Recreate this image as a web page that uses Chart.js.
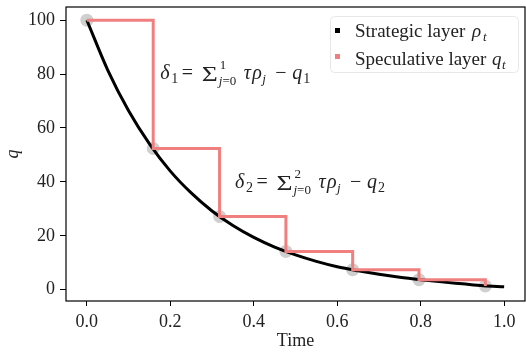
<!DOCTYPE html>
<html>
<head>
<meta charset="utf-8">
<script src="https://cdn.jsdelivr.net/npm/chart.js@4.4.1/dist/chart.umd.min.js"></script>
<style>
  html, body { margin: 0; padding: 0; background: #fff; }
  #wrap { width: 526px; height: 352px; }
</style>
</head>
<body>
<div id="wrap"><canvas id="chart" width="526" height="352"></canvas></div>
<script>
// Strategic layer (smooth decay)
const curveT = [0, 0.05, 0.1, 0.15, 0.2, 0.25, 0.3, 0.35, 0.4, 0.45, 0.5,
                0.55, 0.6, 0.65, 0.7, 0.75, 0.8, 0.85, 0.9, 0.95, 1.0];
const strategicRho = [100, 81.5, 66.4, 54.1, 44.0, 35.9, 29.2, 23.8, 19.4, 15.8, 12.9,
                      10.5, 8.5, 7.0, 5.7, 4.6, 3.7, 2.9, 2.2, 1.5, 1.1];

// Speculative layer (step function) and its corner points
const stepT = [0, 0.159, 0.318, 0.477, 0.637, 0.796, 0.955];
const speculativeQ = [100, 52.4, 27.2, 14.2, 7.4, 3.7, 1.4];

const xTicks = [0, 0.2, 0.4, 0.6, 0.8, 1.0];
const yTicks = [0, 20, 40, 60, 80, 100];

const SERIF = '"Liberation Serif", "DejaVu Serif", serif';
const RED = '#f08080';

function pts(xs, ys) {
    return xs.map((x, i) => ({ x: x, y: ys[i] }));
}

// draw text pieces; "at" is an offset from the start, otherwise pieces follow on
function drawRuns(ctx, x0, y, runs) {
    let x = x0;
    runs.forEach(r => {
        ctx.font = (r.it ? 'italic ' : '') + r.size + 'px ' + SERIF;
        const px = r.at !== undefined ? x0 + r.at : x;
        if (r.sx) {
            // stretch wide glyphs (the sum sign) a little
            ctx.save();
            ctx.translate(px, y + (r.dy || 0));
            ctx.scale(r.sx, 1);
            ctx.fillText(r.t, 0, 0);
            ctx.restore();
            x = px + ctx.measureText(r.t).width * r.sx;
        } else {
            ctx.fillText(r.t, px, y + (r.dy || 0));
            x = px + ctx.measureText(r.t).width;
        }
    });
}

function deltaRuns(k) {
    return [
        { t: 'δ', it: true, size: 20, at: 0 },
        { t: k, size: 14, dy: 4, at: 11 },
        { t: '=', size: 20, at: 21.5 },
        { t: 'Σ', size: 22, dy: 2, at: 41.5, sx: 1.25 },
        { t: k, size: 13, dy: -10, at: 59.5 },
        { t: 'j', it: true, size: 13, dy: 6, at: 58.5 },
        { t: '=0', size: 13, dy: 6 },
        { t: 'τ', it: true, size: 20, at: 83.5 },
        { t: 'ρ', it: true, size: 20, at: 92 },
        { t: 'j', it: true, size: 13, dy: 4, at: 102 },
        { t: '−', size: 20, at: 115 },
        { t: 'q', it: true, size: 20, at: 132 },
        { t: k, size: 14, dy: 4, at: 143 }
    ];
}

const overlay = {
    id: 'overlay',
    afterDatasetsDraw(chart) {
        const { ctx, chartArea: a, scales } = chart;
        ctx.save();

        // frame
        ctx.strokeStyle = '#000';
        ctx.lineWidth = 1.2;
        ctx.strokeRect(a.left, a.top, a.right - a.left, a.bottom - a.top);

        // annotations
        ctx.fillStyle = '#222';
        ctx.textBaseline = 'alphabetic';
        drawRuns(ctx, scales.x.getPixelForValue(0.176), scales.y.getPixelForValue(78.2), deltaRuns('1'));
        drawRuns(ctx, scales.x.getPixelForValue(0.355), scales.y.getPixelForValue(37.6), deltaRuns('2'));

        // legend
        ctx.beginPath();
        ctx.roundRect(330.5, 16.5, 188, 56, 4);
        ctx.fillStyle = 'rgba(255,255,255,0.85)';
        ctx.fill();
        ctx.strokeStyle = '#e8e8e8';
        ctx.lineWidth = 1;
        ctx.stroke();

        ctx.fillStyle = '#000';
        ctx.fillRect(335, 28, 5, 5);
        ctx.fillStyle = RED;
        ctx.fillRect(335, 54, 5, 5);

        ctx.fillStyle = '#222';
        drawRuns(ctx, 355, 36.5, [
            { t: 'Strategic layer', size: 19 },
            { t: 'ρ', it: true, size: 19, at: 117 },
            { t: 't', it: true, size: 13, dy: 4, at: 128 }
        ]);
        drawRuns(ctx, 355, 64.5, [
            { t: 'Speculative layer', size: 19 },
            { t: 'q', it: true, size: 19, at: 137 },
            { t: 't', it: true, size: 13, dy: 4, at: 147 }
        ]);
        ctx.restore();
    }
};

new Chart(document.getElementById('chart'), {
    type: 'scatter',
    data: {
        datasets: [
            {
                label: 'corners',
                data: pts(stepT, speculativeQ),
                pointRadius: 6.5,
                pointBackgroundColor: 'rgba(160,160,160,0.5)',
                pointBorderWidth: 0,
                showLine: false,
                order: 3
            },
            {
                label: 'Strategic layer',
                data: pts(curveT, strategicRho),
                showLine: true,
                borderColor: '#000',
                borderWidth: 3,
                pointRadius: 0,
                cubicInterpolationMode: 'monotone',
                order: 2
            },
            {
                label: 'Speculative layer',
                data: pts(stepT, speculativeQ),
                showLine: true,
                stepped: 'before',
                borderColor: RED,
                borderWidth: 3,
                pointRadius: 0,
                order: 1
            }
        ]
    },
    options: {
        responsive: false,
        animation: false,
        layout: { autoPadding: false, padding: { top: 7, right: 1, left: 0, bottom: 0 } },
        plugins: {
            legend: { display: false },
            tooltip: { enabled: false }
        },
        scales: {
            x: {
                type: 'linear',
                min: -0.05,
                max: 1.05,
                afterBuildTicks: s => { s.ticks = xTicks.map(v => ({ value: v })); },
                afterFit: s => { s.height = 51; s.paddingLeft = 0; s.paddingRight = 0; },
                grid: { display: true, drawOnChartArea: false, drawTicks: true, tickLength: 5, tickColor: '#000' },
                border: { display: false },
                ticks: {
                    color: '#222',
                    padding: 5,
                    font: { family: SERIF, size: 18 },
                    callback: v => v.toFixed(1)
                },
                title: {
                    display: true,
                    text: 'Time',
                    color: '#222',
                    font: { family: SERIF, size: 18 },
                    padding: { top: 0, bottom: 0 }
                }
            },
            y: {
                type: 'linear',
                min: -4.2,
                max: 104.9,
                afterBuildTicks: s => { s.ticks = yTicks.map(v => ({ value: v })); },
                afterFit: s => { s.width = 66; s.paddingTop = 0; s.paddingBottom = 0; },
                grid: { display: true, drawOnChartArea: false, drawTicks: true, tickLength: 6, tickColor: '#000' },
                border: { display: false },
                ticks: {
                    color: '#222',
                    padding: 5,
                    font: { family: SERIF, size: 18 }
                },
                title: {
                    display: true,
                    text: 'q',
                    color: '#222',
                    font: { family: SERIF, size: 18, style: 'italic' },
                    padding: { top: 2, bottom: 0 }
                }
            }
        }
    },
    plugins: [overlay]
});
</script>
</body>
</html>
